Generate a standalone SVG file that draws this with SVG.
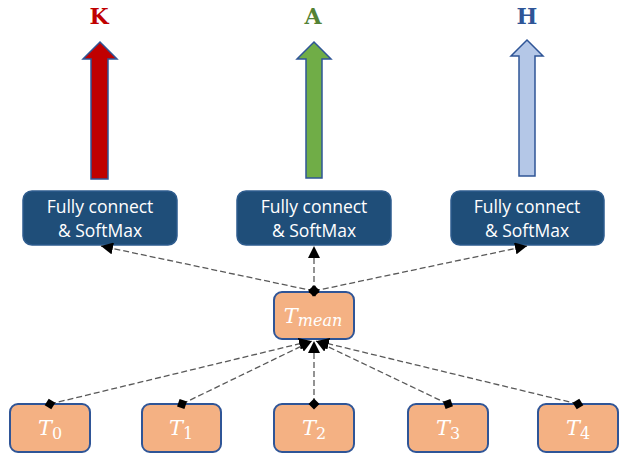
<svg xmlns="http://www.w3.org/2000/svg" width="623" height="455" viewBox="0 0 623 455">
<defs>
<marker id="dia" viewBox="-6 -6 12 12" markerWidth="12" markerHeight="12" refX="0" refY="0" orient="auto" markerUnits="userSpaceOnUse">
<path d="M-5.5 0 L0 -5.5 L5.5 0 L0 5.5 Z" fill="#000"/>
</marker>
<marker id="arr" viewBox="0 -6 13 12" markerWidth="13" markerHeight="12" refX="12" refY="0" orient="auto" markerUnits="userSpaceOnUse">
<path d="M0 -6 L12 0 L0 6 Z" fill="#000"/>
</marker>
<style>
.fc{fill:#1F4E79;stroke:#2E5C8E;stroke-width:1.5}
.fct{font-family:"Open Sans","Noto Sans",sans-serif;font-size:17.5px;fill:#fff;text-anchor:middle}
.t{fill:#F4B183;stroke:#2F5597;stroke-width:2}
.tt{font-family:"DejaVu Serif","Liberation Serif",serif;font-style:italic;font-size:21px;fill:#fff;text-anchor:middle}
.sub{font-size:16px}
.num{font-size:16px;font-style:normal}
.c{fill:none;stroke:#595959;stroke-width:1.3;stroke-dasharray:6 3;marker-start:url(#dia);marker-end:url(#arr)}
.big{stroke:#2F5597;stroke-width:1.5}
.lab{font-family:"DejaVu Serif","Liberation Serif",serif;font-weight:bold;font-size:22px;text-anchor:middle}
</style>
</defs>
<g id="outK">
<text class="lab" x="99" y="24" fill="#C00000">K</text>
<path class="big" fill="#C00000" d="M100 42 L117 59 L108 59 L108 179 L91 179 L91 59 L83 59 Z"/>
</g>
<g id="outA">
<text class="lab" x="313" y="24" fill="#548235">A</text>
<path class="big" fill="#70AD47" d="M314 42 L331 59 L322 59 L322 178 L306 178 L306 59 L297 59 Z"/>
</g>
<g id="outH">
<text class="lab" x="527" y="24" fill="#2F5597">H</text>
<path class="big" fill="#B4C7E7" d="M527 40 L543 56 L535 56 L535 176 L519 176 L519 56 L511 56 Z"/>
</g>
<g id="fc1">
<rect class="fc" x="23" y="191" width="154" height="54" rx="9"/>
<text class="fct" x="100" y="213">Fully connect</text>
<text class="fct" x="100" y="237">&amp; SoftMax</text>
</g>
<g id="fc2">
<rect class="fc" x="237" y="191" width="154" height="54" rx="9"/>
<text class="fct" x="314" y="213">Fully connect</text>
<text class="fct" x="314" y="237">&amp; SoftMax</text>
</g>
<g id="fc3">
<rect class="fc" x="451" y="191" width="153" height="54" rx="9"/>
<text class="fct" x="527" y="213">Fully connect</text>
<text class="fct" x="527" y="237">&amp; SoftMax</text>
</g>
<g id="tmean">
<rect class="t" x="274" y="292" width="80" height="47" rx="8"/>
<text class="tt" x="313" y="323">T<tspan class="sub" dy="3">mean</tspan></text>
</g>
<g id="t0">
<rect class="t" x="10" y="404" width="80" height="48" rx="8"/>
<text class="tt" x="50" y="435">T<tspan class="num" dy="4">0</tspan></text>
</g>
<g id="t1">
<rect class="t" x="142" y="404" width="79" height="48" rx="8"/>
<text class="tt" x="181" y="435">T<tspan class="num" dy="4">1</tspan></text>
</g>
<g id="t2">
<rect class="t" x="274" y="404" width="80" height="48" rx="8"/>
<text class="tt" x="314" y="435">T<tspan class="num" dy="4">2</tspan></text>
</g>
<g id="t3">
<rect class="t" x="408" y="404" width="80" height="48" rx="8"/>
<text class="tt" x="448" y="435">T<tspan class="num" dy="4">3</tspan></text>
</g>
<g id="t4">
<rect class="t" x="538" y="404" width="80" height="48" rx="8"/>
<text class="tt" x="578" y="435">T<tspan class="num" dy="4">4</tspan></text>
</g>
<g id="connectors">
<line class="c" x1="314" y1="291" x2="101" y2="246"/>
<line class="c" x1="314" y1="291" x2="314" y2="246"/>
<line class="c" x1="314" y1="291" x2="527" y2="246"/>
<line class="c" x1="50" y1="404" x2="311" y2="341"/>
<line class="c" x1="182" y1="404" x2="312" y2="341"/>
<line class="c" x1="314" y1="404" x2="314" y2="341"/>
<line class="c" x1="448" y1="404" x2="316" y2="341"/>
<line class="c" x1="578" y1="404" x2="317" y2="341"/>
</g>
</svg>
